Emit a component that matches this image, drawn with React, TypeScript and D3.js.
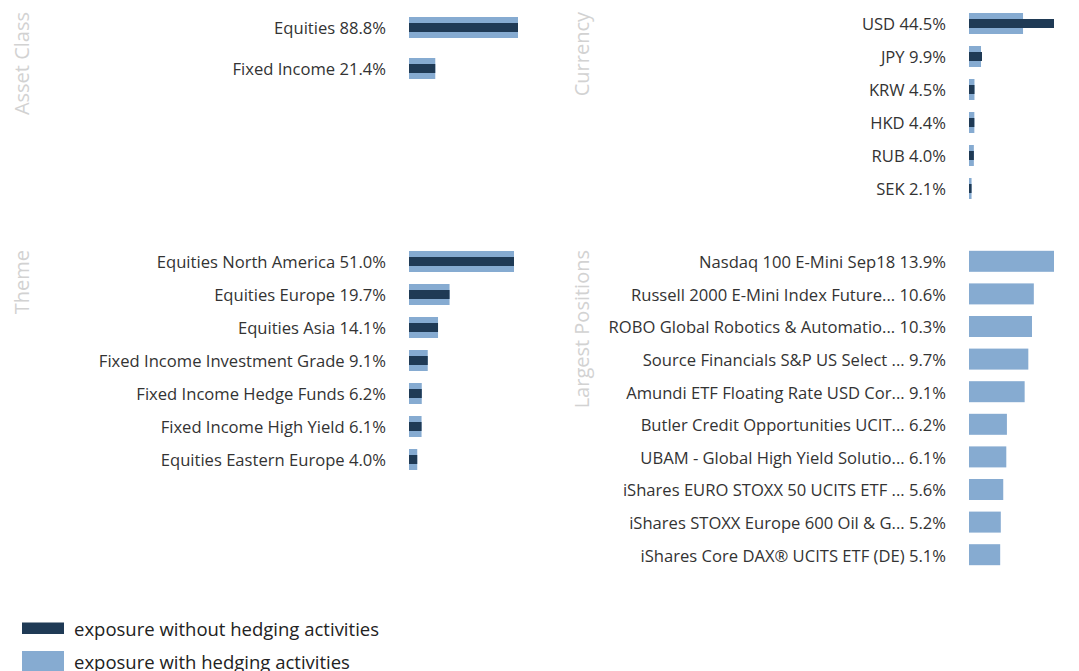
import React from "react";
import * as d3 from "d3";

const assetClassCats = ["Equities", "Fixed Income"];
const assetClassWith = [88.8, 21.4];
const assetClassWithout = [88.8, 21.4];

const currencyCats = ["USD", "JPY", "KRW", "HKD", "RUB", "SEK"];
const currencyWith = [44.5, 9.9, 4.5, 4.4, 4.0, 2.1];
const currencyWithout = [70.0, 10.7, 4.5, 4.4, 4.0, 2.1];

const themeCats = [
  "Equities North America",
  "Equities Europe",
  "Equities Asia",
  "Fixed Income Investment Grade",
  "Fixed Income Hedge Funds",
  "Fixed Income High Yield",
  "Equities Eastern Europe",
];
const themeWith = [51.0, 19.7, 14.1, 9.1, 6.2, 6.1, 4.0];
const themeWithout = [51.0, 19.7, 14.1, 9.1, 6.2, 6.1, 4.0];

const positionCats = [
  "Nasdaq 100 E-Mini Sep18",
  "Russell 2000 E-Mini Index Future...",
  "ROBO Global Robotics & Automatio...",
  "Source Financials S&P US Select ...",
  "Amundi ETF Floating Rate USD Cor...",
  "Butler Credit Opportunities UCIT...",
  "UBAM - Global High Yield Solutio...",
  "iShares EURO STOXX 50 UCITS ETF ...",
  "iShares STOXX Europe 600 Oil & G...",
  "iShares Core DAX® UCITS ETF (DE)",
];
const positionWith = [13.9, 10.6, 10.3, 9.7, 9.1, 6.2, 6.1, 5.6, 5.2, 5.1];

const legendLabels = ["exposure without hedging activities", "exposure with hedging activities"];

const DARK = "#1f3a55";
const LIGHT = "#86abd1";
const FONT = "'Open Sans', sans-serif";

type PanelProps = {
  title: string;
  cats: string[];
  withVals: number[];
  withoutVals: number[] | null;
  x0: number;
  y0: number;
  step: number;
  barWidth: number;
};

function Panel({ title, cats, withVals, withoutVals, x0, y0, step, barWidth }: PanelProps) {
  const labelEnd = 386;
  const barStart = 409;
  const maxV = d3.max([...withVals, ...(withoutVals || [])]) as number;
  const x = d3.scaleLinear().domain([0, maxV]).range([0, barWidth]);
  const y = d3
    .scaleBand<string>()
    .domain(cats)
    .range([y0, y0 + cats.length * step])
    .paddingInner(0)
    .paddingOuter(0);
  return (
    <g transform={`translate(${x0},0)`}>
      <text
        transform={`translate(29,${y0 + 5}) rotate(-90)`}
        textAnchor="end"
        fontFamily={FONT}
        fontSize={20}
        fill="#d2d2d2"
      >
        {title}
      </text>
      {cats.map((c, i) => {
        const cy = (y(c) as number) + y.bandwidth() / 2;
        return (
          <g key={c}>
            <text
              x={labelEnd}
              y={cy + 1}
              dy="0.36em"
              textAnchor="end"
              fontFamily={FONT}
              fontSize={16.6}
              fill="#333"
            >
              {`${c} ${withVals[i].toFixed(1)}%`}
            </text>
            <rect x={barStart} y={cy - 10.5} width={x(withVals[i])} height={21} fill={LIGHT} />
            {withoutVals && (
              <rect x={barStart} y={cy - 4.5} width={x(withoutVals[i])} height={9} fill={DARK} />
            )}
          </g>
        );
      })}
    </g>
  );
}

export default function App() {
  return (
    <svg width={1079} height={671} style={{ position: "absolute", left: 0, top: 0 }}>
      <Panel title="Asset Class" cats={assetClassCats} withVals={assetClassWith} withoutVals={assetClassWithout} x0={0} y0={7} step={41} barWidth={109} />
      <Panel title="Currency" cats={currencyCats} withVals={currencyWith} withoutVals={currencyWithout} x0={560} y0={7} step={33} barWidth={85} />
      <Panel title="Theme" cats={themeCats} withVals={themeWith} withoutVals={themeWithout} x0={0} y0={245} step={33} barWidth={105} />
      <Panel title="Largest Positions" cats={positionCats} withVals={positionWith} withoutVals={null} x0={560} y0={245} step={32.6} barWidth={85} />
      <g>
        <rect x={22} y={622.5} width={42} height={11.5} fill={DARK} />
        <text x={74} y={629} dy="0.36em" fontFamily={FONT} fontSize={18.5} fill="#222">{legendLabels[0]}</text>
        <rect x={22} y={651} width={42} height={21} fill={LIGHT} />
        <text x={74} y={662} dy="0.36em" fontFamily={FONT} fontSize={18.5} fill="#222">{legendLabels[1]}</text>
      </g>
    </svg>
  );
}
